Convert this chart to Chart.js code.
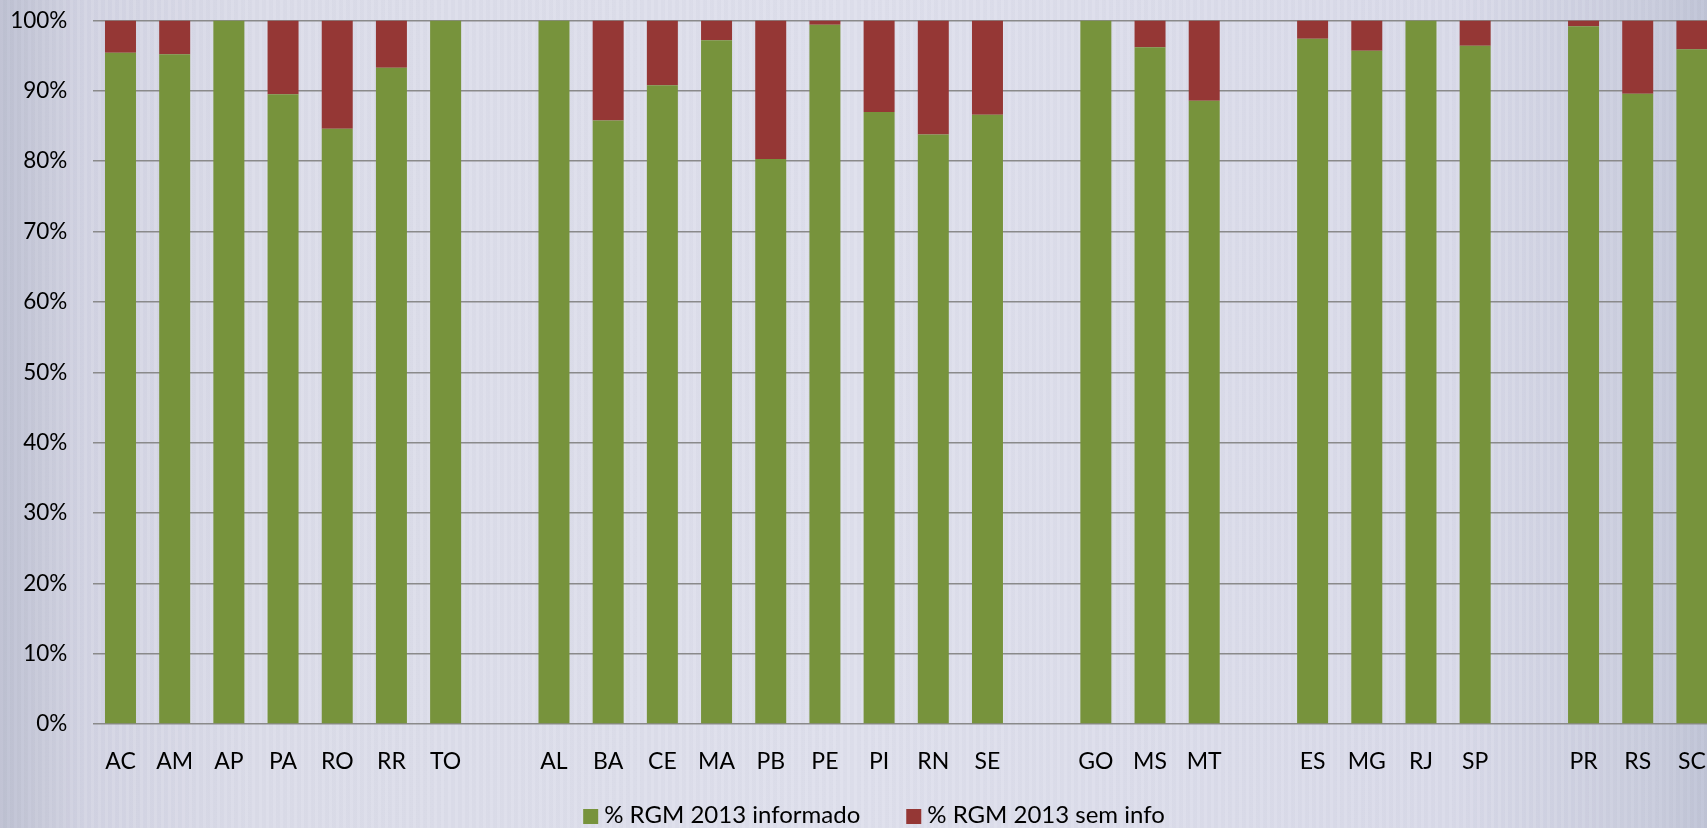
<!DOCTYPE html>
<html lang="pt-BR">
<head>
<meta charset="utf-8">
<title>% RGM 2013 por UF</title>
<script src="https://cdn.jsdelivr.net/npm/chart.js@4.4.1/dist/chart.umd.min.js"></script>
<style>
    html, body {
        margin: 0;
        padding: 0;
        width: 1707px;
        height: 828px;
        overflow: hidden;
    }
    body {
        background:
            repeating-linear-gradient(90deg, rgba(255,255,255,0.04) 0px, rgba(255,255,255,0.04) 3px, rgba(120,125,150,0.03) 3px, rgba(120,125,150,0.03) 7px),
            linear-gradient(90deg, #bec1d2 0%, #d3d4e3 5%, #dcdde9 15%, #dfe0ec 50%, #dadbe9 85%, #c9ccdd 97%, #c0c4d6 100%);
    }
    .canvas-container {
        position: absolute;
        left: 0;
        top: 0;
        width: 1719px;
        height: 828px;
    }
</style>
</head>
<body>
<div class="canvas-container">
    <canvas id="rgmChart"></canvas>
</div>
<script>
// UFs agrupadas por região; as posições vazias separam as regiões
const ufs = ['AC', 'AM', 'AP', 'PA', 'RO', 'RR', 'TO', '',
             'AL', 'BA', 'CE', 'MA', 'PB', 'PE', 'PI', 'RN', 'SE', '',
             'GO', 'MS', 'MT', '',
             'ES', 'MG', 'RJ', 'SP', '',
             'PR', 'RS', 'SC'];

// % RGM 2013 informado
const informado = [95.4, 95.2, 100, 89.5, 84.6, 93.3, 100, null,
                   100, 85.8, 90.8, 97.2, 80.3, 99.4, 87.0, 83.8, 86.6, null,
                   100, 96.2, 88.6, null,
                   97.4, 95.7, 100, 96.4, null,
                   99.2, 89.6, 95.9];

// % RGM 2013 sem info
const semInfo = [4.6, 4.8, 0, 10.5, 15.4, 6.7, 0, null,
                 0, 14.2, 9.2, 2.8, 19.7, 0.6, 13.0, 16.2, 13.4, null,
                 0, 3.8, 11.4, null,
                 2.6, 4.3, 0, 3.6, null,
                 0.8, 10.4, 4.1];

const yTicks = [0, 10, 20, 30, 40, 50, 60, 70, 80, 90, 100];

const fontFamily = 'Lato, "Open Sans", sans-serif';
const textColor = '#000';

// Legenda desenhada à mão, centrada abaixo do eixo (como no Excel)
const bottomLegend = {
    id: 'bottomLegend',
    afterDraw(chart) {
        const c = chart.ctx;
        const box = 15;
        const gapText = 6;
        const gapItems = 46;
        c.save();
        c.font = '24px ' + fontFamily;
        c.textBaseline = 'alphabetic';
        const items = chart.data.datasets.map(ds => ({
            text: ds.label,
            color: ds.backgroundColor,
            w: box + gapText + c.measureText(ds.label).width
        }));
        const total = items.reduce((s, it) => s + it.w, 0) + gapItems * (items.length - 1);
        let x = 874 - total / 2;
        const baseline = 823;
        items.forEach(it => {
            c.fillStyle = it.color;
            c.fillRect(x, baseline - 14, box, box);
            c.fillStyle = textColor;
            c.fillText(it.text, x + box + gapText, baseline);
            x += it.w + gapItems;
        });
        c.restore();
    }
};

const ctx = document.getElementById('rgmChart').getContext('2d');
new Chart(ctx, {
    type: 'bar',
    data: {
        labels: ufs,
        datasets: [
            {
                label: '% RGM 2013 informado',
                data: informado,
                backgroundColor: '#77933c',
                borderWidth: 0
            },
            {
                label: '% RGM 2013 sem info',
                data: semInfo,
                backgroundColor: '#953735',
                borderWidth: 0
            }
        ]
    },
    options: {
        responsive: true,
        maintainAspectRatio: false,
        animation: false,
        layout: {
            padding: { top: 20.5, right: 0, bottom: 28, left: 0 }
        },
        datasets: {
            bar: {
                categoryPercentage: 1,
                barPercentage: 0.572
            }
        },
        scales: {
            x: {
                stacked: true,
                grid: { display: false, drawTicks: false },
                border: { display: false },
                ticks: {
                    color: textColor,
                    padding: 24,
                    autoSkip: false,
                    maxRotation: 0,
                    font: { family: fontFamily, size: 23 }
                },
                afterFit: function(scale) {
                    scale.height = 76;
                    scale.paddingLeft = 0;
                    scale.paddingRight = 0;
                }
            },
            y: {
                stacked: true,
                min: 0,
                max: 100,
                afterBuildTicks: function(scale) {
                    scale.ticks = yTicks.map(v => ({ value: v }));
                },
                grid: {
                    color: '#8a8a8a',
                    lineWidth: 1.5,
                    drawTicks: false
                },
                border: { display: false },
                ticks: {
                    color: textColor,
                    padding: 26,
                    font: { family: fontFamily, size: 22.5 },
                    callback: function(value) {
                        return value + '%';
                    }
                },
                afterFit: function(scale) {
                    scale.width = 93.4;
                    scale.paddingTop = 0;
                    scale.paddingBottom = 0;
                }
            }
        },
        plugins: {
            legend: { display: false },
            tooltip: { enabled: false }
        }
    },
    plugins: [bottomLegend]
});
</script>
</body>
</html>
